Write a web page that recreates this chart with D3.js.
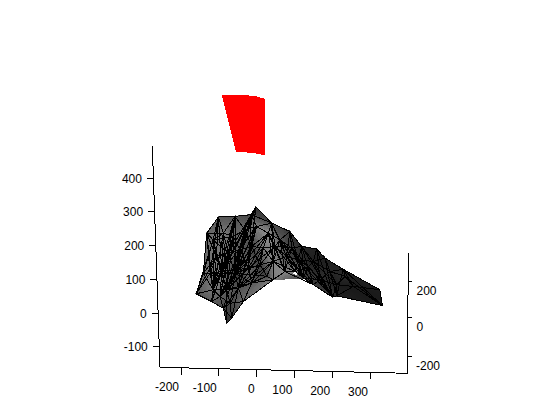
<!DOCTYPE html>
<html><head><meta charset="utf-8">
<style>html,body{margin:0;padding:0;background:#fff}svg{display:block}text{font-family:"Liberation Sans",Arial,sans-serif;font-size:12px;fill:#000}</style>
<script src="https://cdn.jsdelivr.net/npm/d3@7/dist/d3.min.js"></script></head><body>
<script>
const xTicks=[-200,-100,0,100,200,300];
const zTicks=[-100,0,100,200,300,400];
const yTicks=[-200,0,200];
// mesh vertices (x value, z value, gray level)
const meshX=[-160,-141,-132,-101,-57,-13,-2,40,88,119,159,181,229,326,333,212,201,150,102,44,-35,-66,-79,-88,-119,
 -115,-88,-62,-31,0,31,62,93,-106,-75,-44,-13,18,49,79,110,137,-123,-92,-57,-22,9,44,75,124,168,194,-115,-79,-48,-13,27,-70,-97,212,256,234,150];
const meshZ=[57,118,237,285,287,292,315,267,242,198,190,163,130,69,22,51,47,84,123,99,34,-15,-30,14,34,
 217,237,227,247,257,237,217,193,168,178,188,198,193,198,168,158,138,118,123,118,133,143,153,123,104,99,123,69,69,74,89,109,29,49,84,79,109,153];
const meshGray=[85,105,100,85,80,70,45,75,55,40,35,30,35,28,25,32,55,60,130,125,105,55,40,70,95,
 115,120,100,105,130,150,90,60,125,110,90,65,120,130,70,50,40,120,125,60,105,65,135,135,65,50,38,120,100,80,90,60,70,95,28,25,45,30];
const outlineCount=25;
const openEdges=[[18,19]];
const extraFaces=[[19,18,48],[19,48,49]];
const extraEdges=[[3,25],[3,33],[26,43],[4,34],[4,44],[27,53],[26,52],[28,44],[28,54],[5,35],[5,45],[29,44],[29,54],[6,36],[6,45],[35,53],[34,58],[36,53],[46,54],[37,55],[37,54],[38,46],[47,55],[30,45],[31,47],[31,48],[7,38],[8,39],[32,49],[32,48],[39,17],[40,17],[9,49],[9,17],[41,16],[62,59],[10,50],[11,16],[51,15],[12,15],[12,14],[61,14],[33,53],[25,43],[27,44],[2,43],[42,53],
 [30,47],[30,48],[7,47],[7,39],[31,39],[31,40],[8,40],[8,49],[32,17],[38,48],[38,18],[39,18],[47,18],[40,18],[39,49],[32,41],[31,49],[38,39],[48,17],[9,16],[41,17],[40,16],[62,16],[10,16],[62,50],
 [3,42],[3,43],[4,43],[4,52],[5,44],[5,53],[6,44],[6,35],[6,34],[29,53],[29,35],[28,53],[26,53],[25,52],[25,53],[33,52],[34,52],[34,53],[36,54],[46,44],[45,53],[38,45],[47,54],[30,44],[56,54],[56,44],[37,44],[2,33],[2,42],[1,33],[42,0],[24,43],[58,43],[58,44],[23,44],[23,54],[52,53],
 [2,52],[25,0],[33,0],[34,24],[26,24],[27,58],[28,52],[35,58],[36,58],[5,43],[29,43],[6,43],[33,43],[33,35],[42,44],[52,54],[25,27],[34,36],[43,45],[53,55],[58,57],[54,21],[53,22],[44,57]];
// red surface outline (x value, z value)
const redX=[-92,-30,-3,22,22,-3,-30,-54];
const redZ=[647,647,644,636,468,474,477,477];

const W=560,H=420;
const sx=d3.scaleLinear().domain([-200,300]).range([181,370]);
const sz=d3.scaleLinear().domain([-100,400]).range([346.7,178.3]);
const sy=d3.scaleLinear().domain([-200,0,200]).range([356.7,317.3,281.5]);
// slanted axes: screen position of one axis along the other
const leftAxisX=d3.scaleLinear().domain([146,367.3]).range([152.3,160]);
const bottomAxisY=d3.scaleLinear().domain([160,407.5]).range([367.3,373.3]);
const svg=d3.select("body").append("svg").attr("width",W).attr("height",H);
const line=d3.line();

// red surface
svg.append("path").attr("d",line(redX.map((x,i)=>[sx(x),sz(redZ[i])]))+"Z").attr("fill","#ff0000").attr("shape-rendering","crispEdges");

// mesh
const pts=meshX.map((x,i)=>[sx(x),sz(meshZ[i])]);
const outline=pts.slice(0,outlineCount);
const del=d3.Delaunay.from(pts);
const gray=d3.scaleLinear().domain([0,255]).range(["#000000","#ffffff"]);
const fills=svg.append("g").attr("shape-rendering","crispEdges");
function sub(a,b,c,d){
  if(d===0){
    const g=(a[2]+b[2]+c[2])/3;
    fills.append("path").attr("d",line([a,b,c].map(p=>[p[0],p[1]]))+"Z").attr("fill",gray(g)).attr("stroke",gray(g));
    return;
  }
  const m=(p,q)=>[(p[0]+q[0])/2,(p[1]+q[1])/2,(p[2]+q[2])/2];
  const ab=m(a,b),bc=m(b,c),ca=m(c,a);
  sub(a,ab,ca,d-1);sub(ab,b,bc,d-1);sub(ca,bc,c,d-1);sub(ab,bc,ca,d-1);
}
const edges=[];
const isOpen=(a,b)=>openEdges.some(e=>(e[0]===a&&e[1]===b)||(e[0]===b&&e[1]===a));
const v=j=>[pts[j][0],pts[j][1],meshGray[j]];
const t=del.triangles;
for(let i=0;i<t.length;i+=3){
  const [a,b,c]=[t[i],t[i+1],t[i+2]];
  const cen=[(pts[a][0]+pts[b][0]+pts[c][0])/3,(pts[a][1]+pts[b][1]+pts[c][1])/3];
  if(!d3.polygonContains(outline,cen)) continue;
  sub(v(a),v(b),v(c),3);
  [[a,b],[b,c],[c,a]].forEach(e=>{if(!isOpen(e[0],e[1]))edges.push(e);});
}
extraFaces.forEach(f=>sub(v(f[0]),v(f[1]),v(f[2]),3));
const wire=svg.append("g").attr("stroke","#000").attr("fill","none").attr("shape-rendering","crispEdges");
edges.concat(extraEdges).forEach(e=>wire.append("path").attr("d",line([pts[e[0]],pts[e[1]]])));
d3.range(outlineCount).forEach(i=>{
  const j=(i+1)%outlineCount;
  if(!isOpen(i,j)) wire.append("path").attr("d",line([pts[i],pts[j]]));
});

// axes
const ax=svg.append("g").attr("stroke","#000").attr("fill","none").attr("shape-rendering","crispEdges");
ax.append("path").attr("d",line([[152.3,146],[160,367.3],[407.5,373.3],[408.3,253]]));
const lbl=svg.append("g");
zTicks.forEach(z=>{
  const y=sz(z),x=leftAxisX(y);
  ax.append("path").attr("d",line([[x-6.5,y],[x,y]]));
  lbl.append("text").attr("x",x-11.5).attr("y",y+4.5).attr("text-anchor","end").text(z);
});
xTicks.forEach(v=>{
  const x=sx(v),y=bottomAxisY(x);
  ax.append("path").attr("d",line([[x,y],[x,y+7]]));
  lbl.append("text").attr("x",x-2).attr("y",y+23.5).attr("text-anchor","end").text(v);
});
yTicks.forEach(v=>{
  const y=sy(v);
  ax.append("path").attr("d",line([[408,y],[412,y]]));
  lbl.append("text").attr("x",v<0?416:416.5).attr("y",y+13.5).text(v);
});
</script></body></html>
